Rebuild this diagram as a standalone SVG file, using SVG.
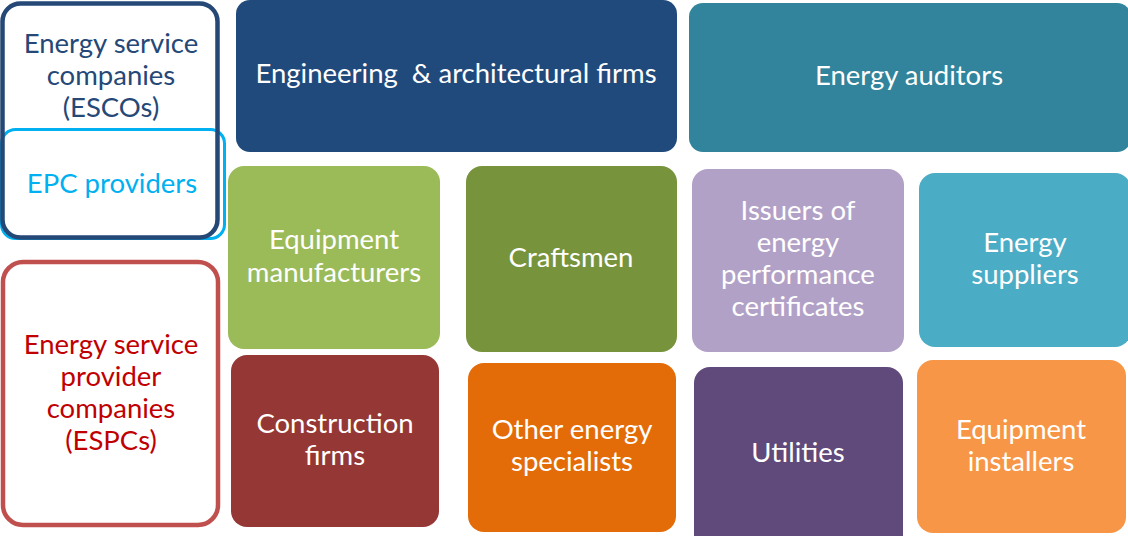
<svg xmlns="http://www.w3.org/2000/svg" width="1128" height="536" viewBox="0 0 1128 536">
<style>
text{font-family:Lato,"Open Sans","Liberation Sans",sans-serif;font-size:27.5px;text-anchor:middle;fill:#ffffff}
.box{stroke:none}
.outline{fill:#ffffff}
</style>
<rect width="1128" height="536" fill="#ffffff"/>
<g id="epc">
<rect class="outline" x="1.5" y="129.5" width="223" height="109" rx="14" stroke="#00b0f0" stroke-width="3"/>
</g>
<g id="esco">
<rect x="2.5" y="3.5" width="215" height="234" rx="18" fill="none" stroke="#254877" stroke-width="4.5"/>
<text x="111" y="53" style="fill:#254877">Energy service</text>
<text x="111" y="85" style="fill:#254877">companies</text>
<text x="111" y="117" style="fill:#254877">(ESCOs)</text>
<text x="112" y="193" style="fill:#00b0f0">EPC providers</text>
</g>
<g id="espc">
<rect class="outline" x="3" y="262" width="215" height="263" rx="20" stroke="#c0504d" stroke-width="4.5"/>
<text x="111" y="354" style="fill:#c00000">Energy service</text>
<text x="111" y="386" style="fill:#c00000">provider</text>
<text x="111" y="418" style="fill:#c00000">companies</text>
<text x="111" y="450" style="fill:#c00000">(ESPCs)</text>
</g>
<g id="engineering">
<rect class="box" x="236" y="0" width="441" height="152" rx="14" fill="#214a7c"/>
<text x="456" y="83" xml:space="preserve">Engineering  &amp; architectural firms</text>
</g>
<g id="auditors">
<rect class="box" x="689" y="3" width="442" height="149" rx="14" fill="#31849b"/>
<text x="909" y="85">Energy auditors</text>
</g>
<g id="manufacturers">
<rect class="box" x="228" y="166" width="212" height="183" rx="16" fill="#9bbb59"/>
<text x="334" y="249">Equipment</text>
<text x="334" y="282">manufacturers</text>
</g>
<g id="craftsmen">
<rect class="box" x="466" y="166" width="211" height="186" rx="16" fill="#77933c"/>
<text x="571" y="267">Craftsmen</text>
</g>
<g id="issuers">
<rect class="box" x="692" y="169" width="212" height="183" rx="16" fill="#b2a1c7"/>
<text x="798" y="220">Issuers of</text>
<text x="798" y="252">energy</text>
<text x="798" y="284">performance</text>
<text x="798" y="316">certificates</text>
</g>
<g id="suppliers">
<rect class="box" x="919" y="173" width="212" height="174" rx="16" fill="#4bacc6"/>
<text x="1025" y="252">Energy</text>
<text x="1025" y="284">suppliers</text>
</g>
<g id="construction">
<rect class="box" x="231" y="355" width="208" height="172" rx="16" fill="#953735"/>
<text x="335" y="433">Construction</text>
<text x="335" y="465">firms</text>
</g>
<g id="other">
<rect class="box" x="468" y="363" width="208" height="169" rx="16" fill="#e36c09"/>
<text x="572" y="439">Other energy</text>
<text x="572" y="471">specialists</text>
</g>
<g id="utilities">
<rect class="box" x="694" y="367" width="209" height="185" rx="16" fill="#604a7b"/>
<text x="798" y="462">Utilities</text>
</g>
<g id="installers">
<rect class="box" x="917" y="360" width="209" height="173" rx="16" fill="#f79646"/>
<text x="1021" y="439">Equipment</text>
<text x="1021" y="471">installers</text>
</g>
<g id="connectors"></g>
</svg>
